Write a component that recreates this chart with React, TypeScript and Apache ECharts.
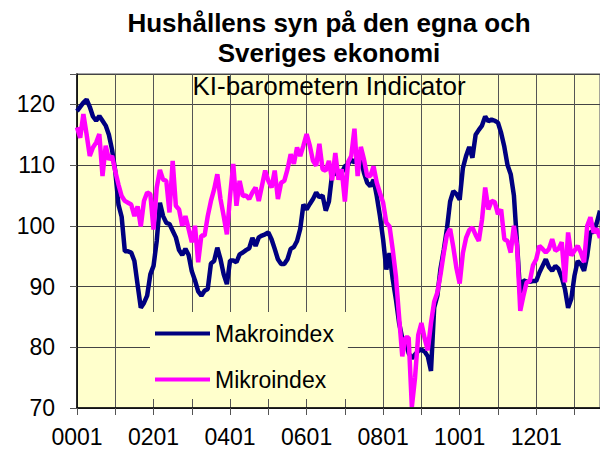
import React, { useEffect, useRef } from "react";
import * as echarts from "echarts";

const TITLE = "Hushållens syn på den egna och\nSveriges ekonomi";
const SUBTITLE = "KI-barometern Indicator";
const SERIES_NAMES = ["Makroindex", "Mikroindex"];

const START_YEAR = 2000;
const MONTH_COUNT = 165;
const categories: string[] = [];
for (let i = 0; i < MONTH_COUNT; i++) {
  const y = START_YEAR + Math.floor(i / 12);
  const m = (i % 12) + 1;
  categories.push(String(y % 100).padStart(2, "0") + String(m).padStart(2, "0"));
}

const makroindex = [
  118.9, 119.6, 120.3, 120.8, 119.6, 118.0, 117.3, 118.1, 117.3, 116.5, 115.0, 112.5,
  109.0, 103.5, 101.5, 95.8, 95.8, 95.6, 94.2, 90.3, 86.5, 87.3, 88.5, 92.0,
  93.4, 97.5, 103.8, 101.6, 100.5, 100.3, 99.2, 98.1, 96.0, 95.2, 96.2, 95.2,
  92.5, 91.0, 89.2, 88.5, 89.3, 89.6, 93.8, 94.2, 96.4, 94.5, 92.0, 90.4,
  94.3, 94.3, 94.0, 95.3, 95.6, 96.0, 96.3, 98.0, 96.7, 98.1, 98.4, 98.6,
  98.9, 97.8, 96.2, 94.5, 93.7, 93.7, 94.5, 96.2, 96.5, 97.5, 99.5, 103.5,
  102.7, 103.6, 104.4, 105.5, 104.7, 105.0, 102.5, 104.0, 108.5, 108.8, 108.2, 108.7,
  109.8, 110.1, 110.9, 110.4, 111.5, 110.9, 108.7, 107.1, 106.5, 107.6, 104.9, 101.6,
  97.7, 92.8, 95.5, 91.2, 87.9, 84.0, 81.5, 81.3, 79.0, 78.2, 78.8, 79.4,
  79.6, 79.3, 78.5, 76.1, 86.5, 88.5, 93.0, 96.0, 99.5, 104.0, 105.7, 105.2,
  104.3, 109.5, 111.5, 113.0, 111.2, 115.0, 115.8, 116.5, 118.0, 117.2, 117.5, 117.3,
  117.0, 115.3, 113.0, 110.0, 108.5, 105.0, 97.0, 88.5, 91.0, 90.8, 90.8, 90.9,
  90.9, 92.3, 93.4, 94.5, 93.2, 92.6, 93.4, 92.9, 91.5, 89.6, 86.5, 88.0,
  91.8, 94.2, 93.7, 92.6, 95.1, 99.0, 99.0, 100.5, 102.5,
];

const mikroindex = [
  116.2, 114.5, 118.4, 115.1, 111.5, 112.9, 113.7, 115.1, 108.2, 113.2, 110.9, 111.5,
  109.0, 106.8, 104.9, 104.1, 103.8, 103.5, 101.6, 103.2, 99.9, 104.1, 105.5, 105.2,
  99.4, 106.3, 109.2, 107.6, 107.4, 102.2, 110.7, 103.3, 102.7, 100.0, 101.6, 99.5,
  97.3, 100.0, 94.0, 98.4, 98.4, 101.6, 104.1, 106.0, 108.5, 104.4, 101.6, 98.6,
  104.9, 110.2, 103.3, 107.4, 104.9, 105.0, 104.4, 105.5, 106.3, 104.1, 106.6, 109.1,
  107.4, 106.3, 109.1, 104.4, 107.1, 107.4, 109.3, 111.8, 110.2, 112.9, 111.5, 113.2,
  115.1, 113.2, 110.7, 109.9, 113.5, 109.3, 109.1, 110.7, 107.5, 112.0, 107.6, 109.3,
  104.0, 110.5, 111.5, 116.0, 108.2, 113.0, 110.9, 108.2, 108.2, 109.8, 107.1, 105.4,
  103.8, 100.5, 99.9, 96.1, 91.7, 85.0, 78.5, 81.6, 81.6, 70.2, 75.0, 82.0,
  84.0, 81.5, 79.5, 84.0, 87.5, 89.0, 92.0, 95.5, 98.5, 99.5, 96.5, 93.0,
  90.5, 95.5, 98.0, 99.3, 99.7, 98.5, 97.5, 101.0, 106.3, 102.7, 104.1, 103.9,
  101.9, 102.7, 97.8, 97.5, 95.6, 100.0, 96.7, 86.0, 88.5, 90.7, 90.9, 93.5,
  94.5, 96.7, 96.2, 95.6, 96.2, 97.8, 95.9, 96.2, 97.3, 90.7, 98.9, 95.1,
  95.9, 96.7, 95.6, 94.0, 100.0, 101.4, 98.9, 99.5, 98.0,
];

const Y_MIN = 70;
const Y_MAX = 125;
const Y_INTERVAL = 10;

const FONT = "'Liberation Sans', Arial, sans-serif";

export default function App() {
  const ref = useRef<HTMLDivElement>(null);
  useEffect(() => {
    if (!ref.current) return;
    const chart = echarts.init(ref.current, undefined, { renderer: "svg" });
    chart.setOption({
      animation: false,
      backgroundColor: "#ffffff",
      textStyle: { fontFamily: FONT },
      title: [
        {
          text: TITLE,
          left: 324,
          top: 3,
          textAlign: "center",
          textStyle: {
            fontFamily: FONT,
            fontWeight: "bold",
            fontSize: 26,
            lineHeight: 30,
            color: "#000",
          },
        },
        {
          text: SUBTITLE,
          left: 324,
          top: 68,
          textAlign: "center",
          textStyle: {
            fontFamily: FONT,
            fontWeight: "normal",
            fontSize: 26,
            color: "#000",
          },
          z: 10,
        },
      ],
      legend: {
        data: SERIES_NAMES,
        orient: "vertical",
        left: 150,
        top: 312,
        padding: [10, 14, 8, 5],
        backgroundColor: "#FFFFCC",
        itemWidth: 55,
        itemHeight: 4,
        itemGap: 23,
        icon: "rect",
        textStyle: { fontFamily: FONT, fontSize: 23, color: "#000" },
      },
      grid: {
        show: true,
        left: 77,
        top: 74,
        right: 0,
        bottom: 47,
        backgroundColor: "#FFFFCC",
        borderColor: "#888",
        borderWidth: 1.5,
      },
      xAxis: {
        type: "category",
        data: categories,
        boundaryGap: false,
        axisLine: { show: true, lineStyle: { color: "#000", width: 1.5 } },
        axisTick: { show: true, interval: 11, length: 7, lineStyle: { color: "#555" } },
        axisLabel: {
          interval: 23,
          margin: 17,
          fontFamily: FONT,
          fontSize: 23,
          color: "#000",
        },
        splitLine: { show: true, interval: 11, lineStyle: { color: "#555", width: 1 } },
      },
      yAxis: {
        type: "value",
        min: Y_MIN,
        max: Y_MAX,
        interval: Y_INTERVAL,
        axisLine: { show: true, lineStyle: { color: "#000", width: 1.5 } },
        axisTick: { show: true, length: 7, lineStyle: { color: "#555" } },
        axisLabel: {
          margin: 22,
          fontFamily: FONT,
          fontSize: 23,
          color: "#000",
          formatter: (v: number) => (v % 10 === 0 ? String(v) : ""),
        },
        splitLine: { show: true, lineStyle: { color: "#444", width: 1 } },
      },
      series: [
        {
          name: SERIES_NAMES[0],
          type: "line",
          data: makroindex,
          showSymbol: false,
          symbol: "none",
          lineStyle: { color: "#000080", width: 4.5 },
          itemStyle: { color: "#000080" },
          z: 3,
        },
        {
          name: SERIES_NAMES[1],
          type: "line",
          data: mikroindex,
          showSymbol: false,
          symbol: "none",
          lineStyle: { color: "#FF00FF", width: 4.5 },
          itemStyle: { color: "#FF00FF" },
          z: 4,
        },
      ],
    });
    return () => chart.dispose();
  }, []);
  return (
    <div
      ref={ref}
      style={{ position: "fixed", left: 0, top: 0, width: 600, height: 455 }}
    />
  );
}
